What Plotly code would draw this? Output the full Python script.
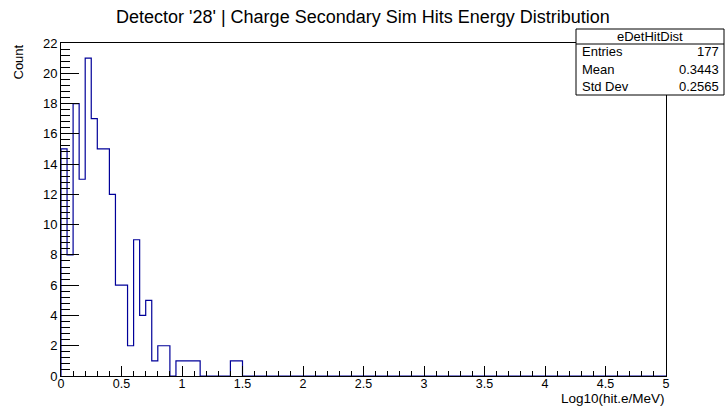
import plotly.graph_objects as go

# ---- data ----
bin_width = 0.05
x_min, x_max = 0.0, 5.0
counts = [15, 8, 18, 13, 21, 17, 15, 15, 12, 6,
          6, 2, 9, 4, 5, 1, 2, 2, 0, 1,
          1, 1, 1, 0, 0, 0, 0, 0, 1, 1] + [0] * 70
title_text = "Detector '28' | Charge Secondary Sim Hits Energy Distribution"
x_title = "Log10(hit.e/MeV)"
y_title = "Count"
stats_name = "eDetHitDist"
stats_labels = ["Entries", "Mean", "Std Dev"]
stats_values = ["177", "0.3443", "0.2565"]

nb = len(counts)
edges = [x_min + i * bin_width for i in range(nb + 1)]
xs = [edges[0]] + edges
ys = [0] + counts + [0]

W, H = 726, 406
L, R, T, B = 61, 60, 43, 30
FONT = "Liberation Sans, Arial, Helvetica, sans-serif"

fig = go.Figure()
fig.add_trace(go.Scatter(x=xs, y=ys, mode="lines", line=dict(shape="hv", color="#000099", width=1.2),
                         hoverinfo="skip", showlegend=False))

fig.update_layout(
    width=W, height=H, margin=dict(l=L, r=R, t=T, b=B),
    paper_bgcolor="white", plot_bgcolor="white",
    font=dict(family=FONT, size=13, color="black"),
    showlegend=False,
)
fig.update_xaxes(range=[x_min, x_max], dtick=0.5, tick0=0, ticks="inside", ticklen=10, tickwidth=1,
                 tickcolor="black", showline=True, linecolor="black", linewidth=1, mirror=True,
                 showgrid=False, zeroline=False, tickfont=dict(size=12.5, family=FONT),
                 ticklabelstandoff=-4,
                 minor=dict(dtick=0.1, ticks="inside", ticklen=5, tickcolor="black", showgrid=False))
fig.update_yaxes(range=[0, 22], dtick=2, tick0=0, ticks="inside", ticklen=18, tickwidth=1,
                 tickcolor="black", showline=True, linecolor="black", linewidth=1, mirror=True,
                 showgrid=False, zeroline=False, tickfont=dict(size=13, family=FONT),
                 minor=dict(dtick=0.4, ticks="inside", ticklen=9, tickcolor="black", showgrid=False))

pw, ph = W - L - R, H - T - B
def px(xp):
    return (xp - L) / pw
def py(yp):
    return (H - B - yp) / ph

# title
fig.add_annotation(text=title_text, xref="paper", yref="paper", x=px(363), y=py(17),
                   xanchor="center", yanchor="middle", showarrow=False, font=dict(size=18, family=FONT))
# axis titles
fig.add_annotation(text=x_title, xref="paper", yref="paper", x=px(667), y=py(398.5),
                   xanchor="right", yanchor="middle", showarrow=False, font=dict(size=13.5, family=FONT))
fig.add_annotation(text=y_title, xref="paper", yref="paper", x=px(18), y=py(43),
                   xanchor="center", yanchor="top", textangle=-90, showarrow=False,
                   font=dict(size=13, family=FONT))

# stats box
bx0, bx1, by0, by1, bsep = 576, 724, 29, 95, 44
fig.add_shape(type="rect", xref="paper", yref="paper", x0=px(bx0), x1=px(bx1), y0=py(by1), y1=py(by0),
              line=dict(color="black", width=1), fillcolor="white", layer="above")
fig.add_shape(type="line", xref="paper", yref="paper", x0=px(bx0), x1=px(bx1), y0=py(bsep), y1=py(bsep),
              line=dict(color="black", width=1), layer="above")
fig.add_annotation(text=stats_name, xref="paper", yref="paper", x=px((bx0 + bx1) / 2), y=py(37),
                   xanchor="center", yanchor="middle", showarrow=False, font=dict(size=13, family=FONT))
for i, (lab, val) in enumerate(zip(stats_labels, stats_values)):
    yy = 52 + 17 * i
    fig.add_annotation(text=lab, xref="paper", yref="paper", x=px(bx0 + 4), y=py(yy),
                       xanchor="left", yanchor="middle", showarrow=False, font=dict(size=13, family=FONT))
    fig.add_annotation(text=val, xref="paper", yref="paper", x=px(bx1 - 3), y=py(yy),
                       xanchor="right", yanchor="middle", showarrow=False, font=dict(size=13, family=FONT))

fig.write_html("out.html")
